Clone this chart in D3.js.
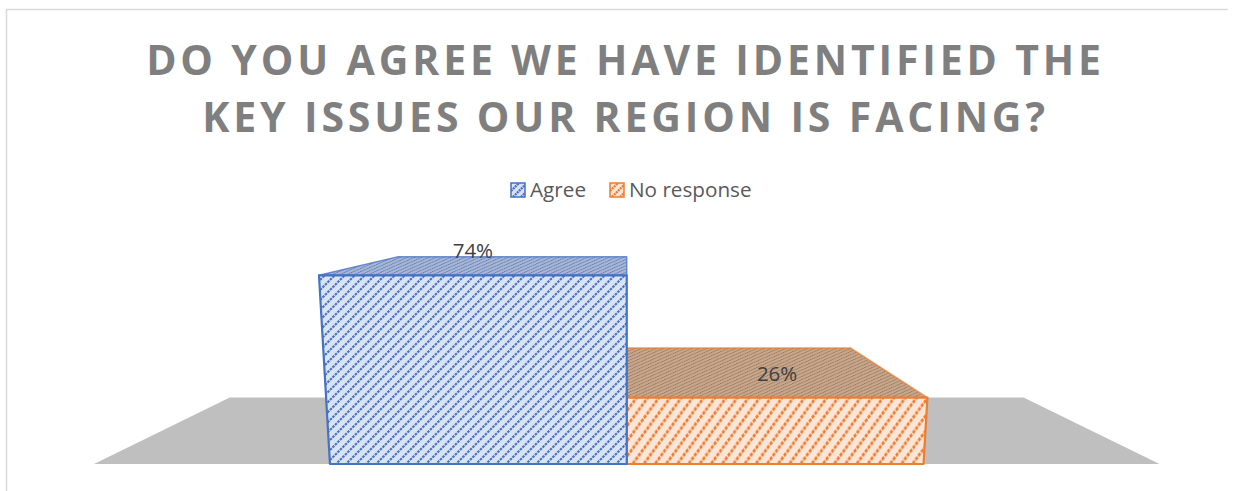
<!DOCTYPE html>
<html>
<head>
<meta charset="utf-8">
<script src="https://cdnjs.cloudflare.com/ajax/libs/d3/7.8.5/d3.min.js"></script>
<style>
    body { margin: 0; background: #fff; }
    svg { display: block; }
    text { font-family: "Open Sans", sans-serif; }
</style>
</head>
<body>
<div id="chart"></div>
<script>
var categories = ['Agree', 'No response'];
var values = [74, 26];
var valueLabels = ['74%', '26%'];
var titleLines = ['DO YOU AGREE WE HAVE IDENTIFIED THE', 'KEY ISSUES OUR REGION IS FACING?'];

var strokes = ['#4472c4', '#ed7d31'];
var lights = ['#dae3f3', '#fbe5d6'];
var topFills = ['#a9b8d6', '#c9a88e'];
var topLines = ['#4a6aa8', '#8a6a4e'];
var frontTransforms = ['scale(1.25)', 'scale(1.4,1.9)'];

var width = 1244, height = 491;

var svg = d3.select('#chart').append('svg')
    .attr('width', width)
    .attr('height', height);

var x = d3.scaleBand()
    .domain(categories)
    .range([94, 1159.5])
    .paddingInner(0)
    .paddingOuter(0.795);

var y = d3.scaleLinear().domain([0, 100]).range([464, 209]);

// vanishing point of the 3d box, and how far the back plane shrinks towards it
var vanish = {x: 626.5, y: 203};
var backDepth = 0.745;
var taper = 0.0005;

function project(px, v, depth) {
    var fx = vanish.x + (px - vanish.x) * (1 + taper * v);
    var fy = y(v);
    return [vanish.x + (fx - vanish.x) * (1 - depth * (1 - backDepth)),
            vanish.y + (fy - vanish.y) * (1 - depth * (1 - backDepth))];
}

function quad(points) {
    return d3.line()(points) + 'Z';
}

var defs = svg.append('defs');

function hatch(id, fill, line, w, transform) {
    var p = defs.append('pattern')
        .attr('id', id)
        .attr('patternUnits', 'userSpaceOnUse')
        .attr('width', 8)
        .attr('height', 8)
        .attr('patternTransform', transform);
    p.append('rect').attr('width', 8).attr('height', 8).attr('fill', fill);
    p.append('path')
        .attr('d', 'M-2,10L10,-2M-2,2L2,-2M6,10L10,6')
        .attr('stroke', line)
        .attr('stroke-width', w)
        .attr('stroke-dasharray', '2.03,0.8');
}

categories.forEach(function (c, i) {
    hatch('front' + i, lights[i], strokes[i], 1.7, frontTransforms[i]);
    hatch('top' + i, topFills[i], topLines[i], 1.6, 'scale(0.9,0.4)');
    hatch('key' + i, lights[i], strokes[i], 2.4, 'scale(1)');
});

// chart frame, only the top and left edges are inside the crop
svg.append('path')
    .attr('d', 'M6.5,491V9.5H1228')
    .attr('fill', 'none')
    .attr('stroke', '#d9d9d9')
    .attr('stroke-width', 1.5);

// title
svg.selectAll('.title')
    .data(titleLines)
    .enter().append('text')
    .attr('class', 'title')
    .attr('x', 625.5)
    .attr('y', function (d, i) { return 75 + i * 57; })
    .attr('text-anchor', 'middle')
    .style('font-size', '41px')
    .style('font-weight', 700)
    .style('letter-spacing', '3.85px')
    .style('fill', '#7f7f7f')
    .text(function (d) { return d; });

// legend
var legendX = [511, 610];
var legend = svg.selectAll('.legend')
    .data(categories)
    .enter().append('g')
    .attr('class', 'legend')
    .attr('transform', function (d, i) { return 'translate(' + legendX[i] + ',183)'; });

legend.append('rect')
    .attr('width', 14)
    .attr('height', 14)
    .attr('fill', function (d, i) { return 'url(#key' + i + ')'; })
    .attr('stroke', function (d, i) { return strokes[i]; })
    .attr('stroke-width', 1.5);

legend.append('text')
    .attr('x', 19)
    .attr('y', 14)
    .style('font-size', '20.7px')
    .style('fill', '#595959')
    .text(function (d) { return d; });

// floor
var floorLeft = x.range()[0], floorRight = x.range()[1];
svg.append('path')
    .attr('d', quad([
        project(floorLeft, 0, 0),
        project(floorRight, 0, 0),
        project(floorRight, 0, 1),
        project(floorLeft, 0, 1)
    ]))
    .attr('fill', '#bfbfbf');

// bars, back to front so the tall one covers the shared edge
var order = d3.range(categories.length).reverse();

order.forEach(function (i) {
    var x0 = x(categories[i]), x1 = x0 + x.bandwidth(), v = values[i];

    svg.append('path')
        .attr('class', 'bar-top')
        .attr('d', quad([project(x0, v, 0), project(x1, v, 0), project(x1, v, 1), project(x0, v, 1)]))
        .attr('fill', 'url(#top' + i + ')')
        .attr('stroke', strokes[i])
        .attr('stroke-width', 1.5)
        .attr('stroke-opacity', 0.75)
        .attr('stroke-linejoin', 'round');

    svg.append('path')
        .attr('class', 'bar-front')
        .attr('d', quad([project(x0, 0, 0), project(x1, 0, 0), project(x1, v, 0), project(x0, v, 0)]))
        .attr('fill', 'url(#front' + i + ')')
        .attr('stroke', strokes[i])
        .attr('stroke-width', 2.2)
        .attr('stroke-linejoin', 'round');
});

// value labels sit a fixed distance above the front top edge
svg.selectAll('.value-label')
    .data(values)
    .enter().append('text')
    .attr('class', 'value-label')
    .attr('x', function (d, i) {
        return project(x(categories[i]) + x.bandwidth() / 2, d, 0)[0];
    })
    .attr('y', function (d) { return y(d) - 24.5; })
    .attr('dy', '0.36em')
    .attr('text-anchor', 'middle')
    .style('font-size', '20.5px')
    .style('fill', '#404040')
    .text(function (d, i) { return valueLabels[i]; });
</script>
</body>
</html>
